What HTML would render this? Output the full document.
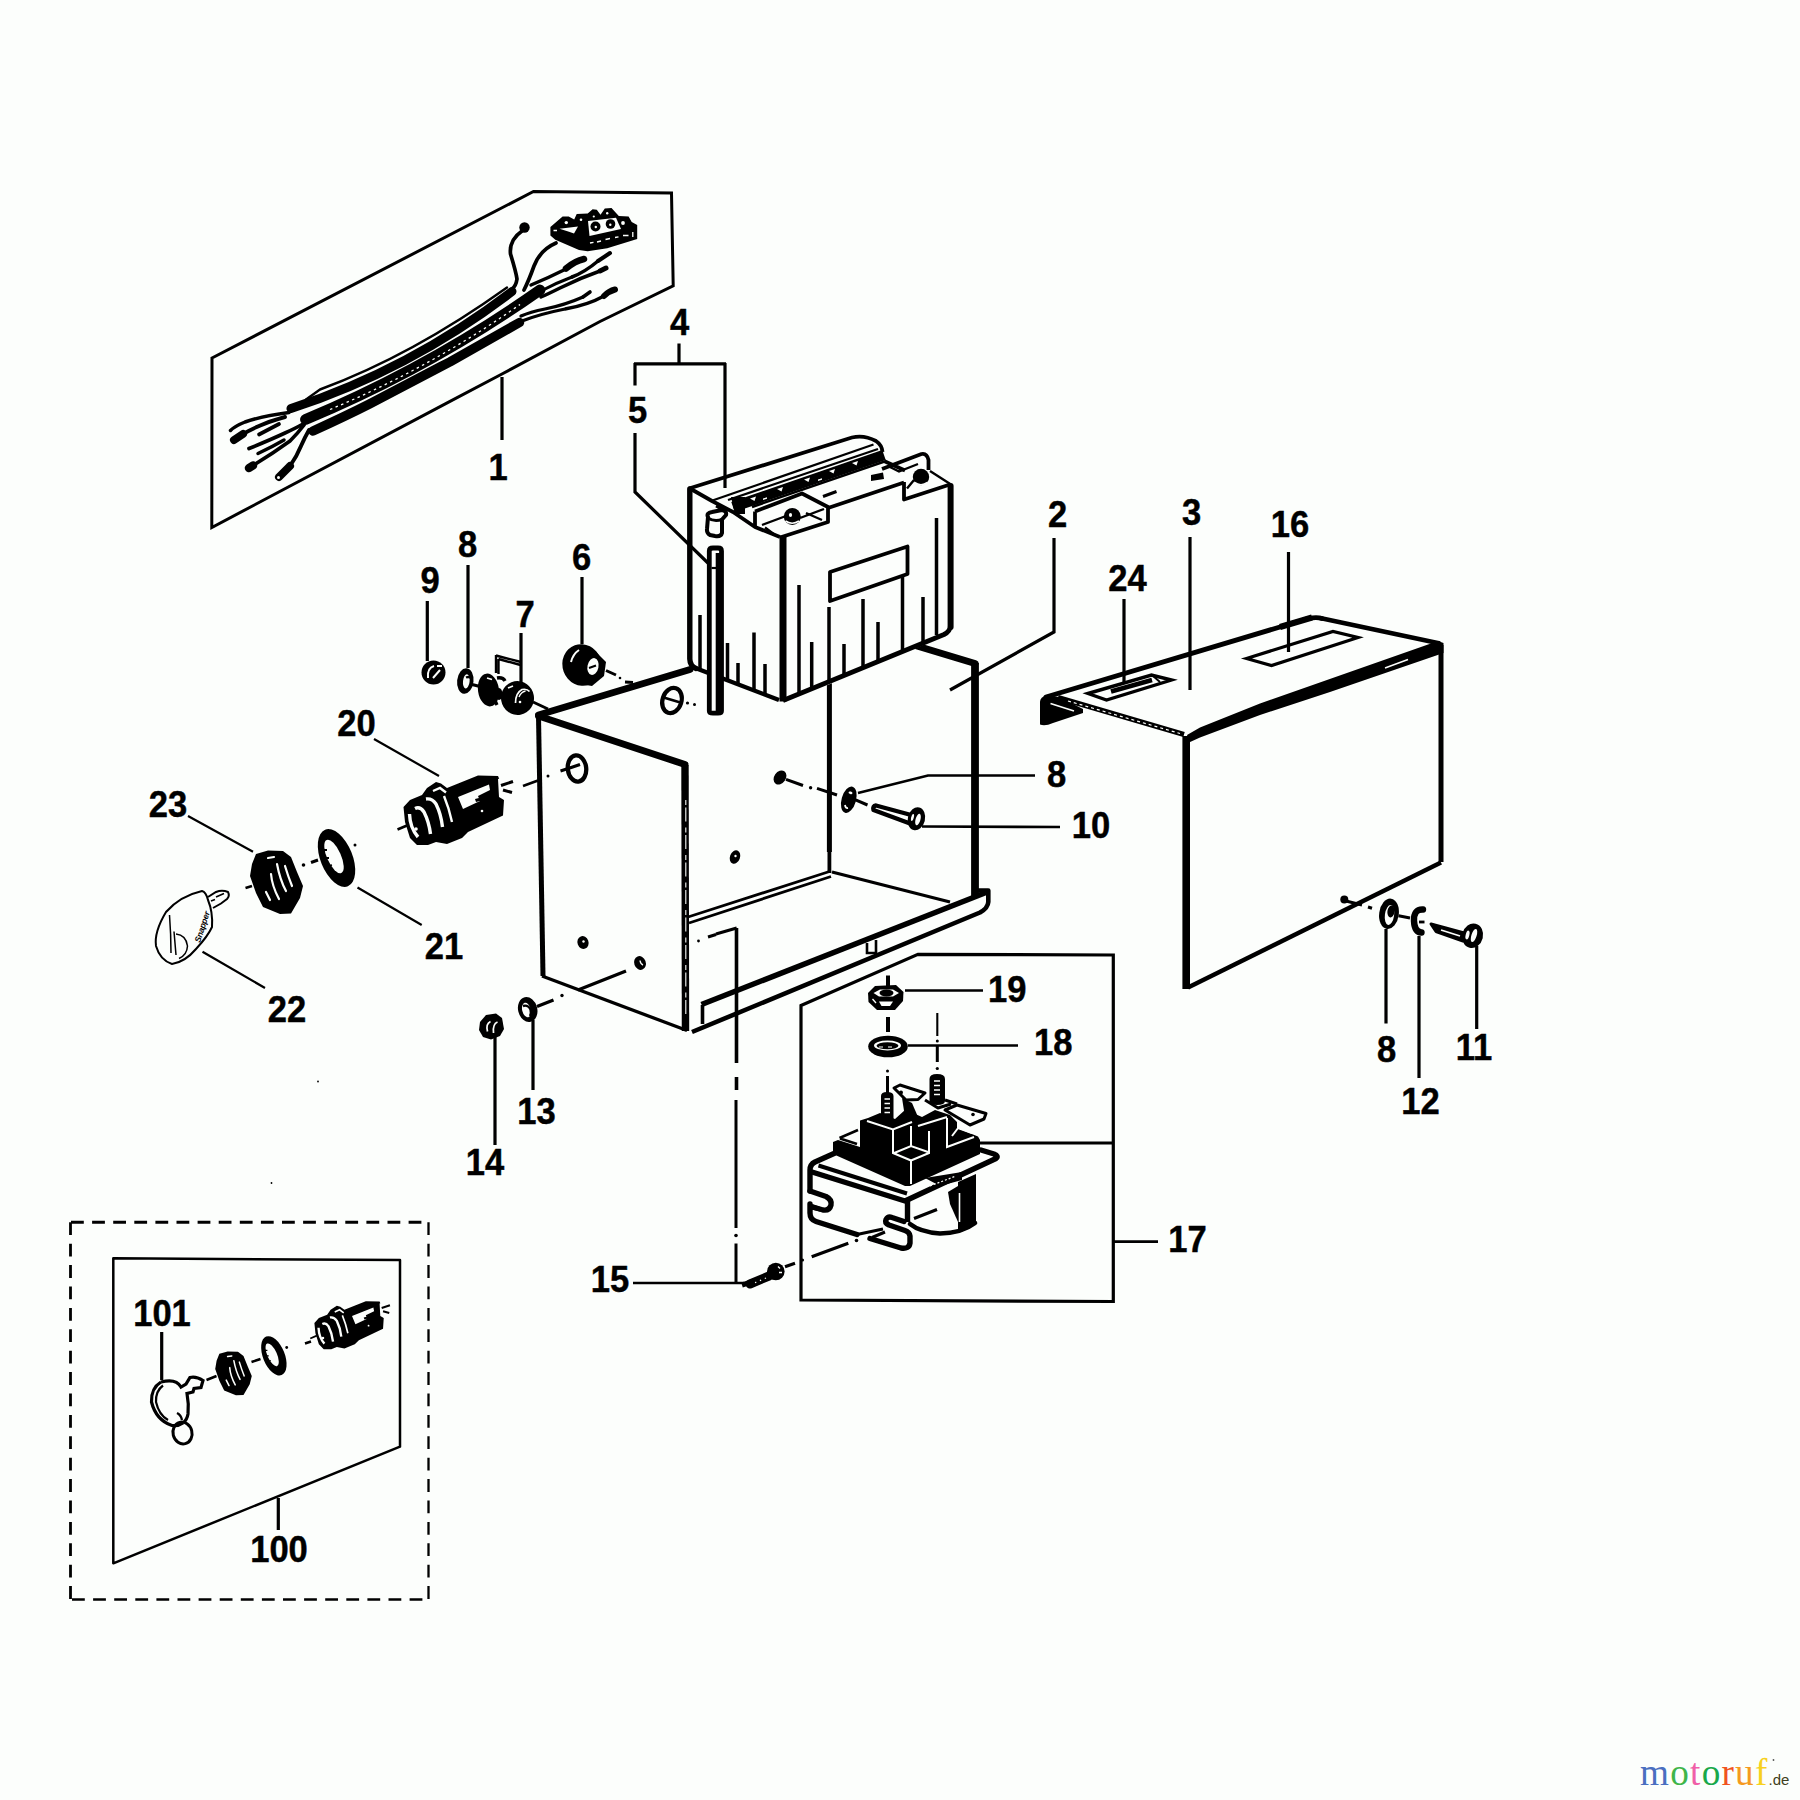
<!DOCTYPE html>
<html><head><meta charset="utf-8"><title>Parts diagram</title>
<style>
html,body{margin:0;padding:0;background:#fcfefc;}
body{width:1800px;height:1800px;overflow:hidden;}
svg{display:block;}
text{font-family:"Liberation Sans",sans-serif;}
.l{font-weight:bold;font-size:34.5px;fill:#000;text-anchor:middle;stroke:#000;stroke-width:0.45;}
.t{stroke:#000;stroke-width:3;fill:none;stroke-linecap:butt;stroke-linejoin:miter;}
.m{stroke:#000;stroke-width:3.6;fill:none;stroke-linejoin:round;}
.k{stroke:#000;stroke-width:4.6;fill:none;stroke-linejoin:round;stroke-linecap:round;}
.b{fill:#000;stroke:none;}
.w{fill:#fcfefc;stroke:none;}
</style></head><body>
<svg width="1800" height="1800" viewBox="0 0 1800 1800">
<rect x="0" y="0" width="1800" height="1800" fill="#fcfefc"/>
<!-- 10_frames.svg -->
<g id="frames">
<polygon class="t" style="stroke-width:3" points="212,358 533.500,191.500 671.500,193 673.200,285.800 600,321.500 501.500,374.300 450,401.300 211.800,527.500"/>
<polygon class="t" style="stroke-width:3.200" points="801,1005.500 918,954.400 1113.3,955 1113.3,1301.5 801,1300"/>
<path class="t" style="stroke-width:3.200" d="M980,1143H1113"/>
<path class="t" d="M70.500,1222.300H428.500" stroke-dasharray="12.800,8.300" stroke-dashoffset="-0.5" style="stroke-width:3"/>
<path class="t" d="M70.500,1222.300V1600" stroke-dasharray="12.800,8.600" style="stroke-width:2.800"/>
<path class="t" d="M428.500,1222.300V1600" stroke-dasharray="12.800,8.600" style="stroke-width:2.300"/>
<path class="t" d="M72,1599.500H427" stroke-dasharray="12.800,8.300" style="stroke-width:2.400"/>
<polygon class="t" points="113.3,1258.3 400,1260 400,1446.7 113.3,1563.3" style="stroke-linejoin:round;stroke-width:2.500"/>
</g>

<!-- 20_box.svg -->
<g id="box2">
<!-- back-left panel P2 top edge and back-right panel P3 -->
<path class="k" style="stroke-width:6.800" d="M538.500,715L690,669.500"/>
<path class="k" style="stroke-width:7" d="M917,646L975,663.500"/>
<path class="m" style="stroke-width:7.800;stroke-linecap:butt" d="M975,663V896"/>
<path class="t" style="stroke-width:5" d="M829.400,683V852"/>
<path class="t" style="stroke-width:3.800" d="M829.400,850V873"/>
<path class="t" style="stroke-width:3.200" d="M832,872L950,902"/>
<!-- floor left double line -->
<path class="t" style="stroke-width:2.800" d="M831,871L688,917 M831,876.500L689,923"/>
<!-- front lip -->
<path class="m" style="stroke-width:5.500;stroke-linecap:butt" d="M701.500,1004.500L986,892.500"/>
<path class="m" style="stroke-width:4.600" d="M692,1032L980,912.500Q988,908 988.300,902V890.500H978"/>
<path class="m" style="stroke-width:3.600" d="M702.500,1005V1024"/>
<path class="t" style="stroke-width:2.600" d="M867,943V953H876V940"/>
<!-- holes in P2 -->
<ellipse class="m" cx="672" cy="700.500" rx="9.500" ry="12.800" transform="rotate(18 672 700.500)" style="stroke-width:4.200"/>
<path class="t" style="stroke-width:2.800" d="M662,697L682,703"/>
<circle class="b" cx="687.500" cy="703" r="1.600"/><circle class="b" cx="694.500" cy="704.500" r="1.500"/>
<ellipse class="b" cx="780" cy="777.500" rx="5.800" ry="7.600" transform="rotate(35 780 777.500)"/>
<ellipse class="b" cx="735" cy="857" rx="5" ry="7" transform="rotate(20 735 857)"/>
<circle class="w" cx="735.5" cy="856" r="1.2"/>
<!-- near panel P1 -->
<polygon class="w" points="537,715 687,763.5 688,1030 542,977"/>
<path class="k" style="stroke-width:6.800" d="M538.500,716L685,764.500"/>
<path class="m" style="stroke-width:5" d="M538.500,716L543,976"/>
<path class="m" style="stroke-width:3.300" d="M542,976L687,1030.500"/>
<path class="m" style="stroke-width:7.400;stroke-linecap:butt" d="M685,765L685.500,1031"/>
<path class="t" style="stroke:#fcfefc;stroke-width:1.100;stroke-dasharray:5,2.500,14,6" d="M685.800,800V1020"/>
<ellipse class="m" cx="577" cy="768.500" rx="9.200" ry="13.200" transform="rotate(-6 577 768.500)" style="stroke-width:4.300"/>
<path class="m" style="stroke-width:3" d="M560.500,771Q570,768 580,764.500"/>
<ellipse class="b" cx="583" cy="942.5" rx="5.500" ry="6.500" transform="rotate(-20 583 942.5)"/><circle class="w" cx="583.5" cy="941.500" r="1.200"/>
<ellipse class="b" cx="640" cy="963" rx="5.800" ry="7" transform="rotate(-20 640 963)"/><path class="t" style="stroke:#fcfefc;stroke-width:1.400" d="M640,960.500Q640.500,964 643,965"/>
<!-- small bracket mark & vertical centerline -->
<circle class="b" cx="698.500" cy="941" r="1.400"/>
<path class="t" style="stroke-width:3" d="M708,937L716,934.500 M716,934L736.7,928"/>
<path class="t" style="stroke-width:3.600" d="M736.500,928V1063 M736.500,1077V1090"/>
<path class="t" style="stroke-width:3" d="M736,1100V1228 M736,1243.500V1284"/>
<circle class="b" cx="736" cy="1235.500" r="1.800"/>
</g>

<!-- 30_battery.svg -->
<g id="battery">
<!-- silhouette -->
<polygon class="w" points="688,488 853,437 868,436.5 881,447 884,455 905,468 921,453 928,459 930,470 952,484 952,633 787,702 779,702 692,667 688,660"/>
<!-- outer edges -->
<path class="k" style="stroke-width:5.400" d="M689.800,489V659Q690,666 696,668.500"/>
<path class="m" style="stroke-width:4.400" d="M694,667.500L779,700"/>
<path class="k" style="stroke-width:7;stroke-linecap:butt" d="M783,537V701.500"/>
<path class="m" style="stroke-width:4.800" d="M783,700.500L944,634.500Q950,631.500 950.500,626"/>
<path class="k" style="stroke-width:6" d="M950.600,486V627"/>
<!-- top back edge -->
<path class="m" style="stroke-width:3.800" d="M689,488.500L852,437.500Q864,434.500 876,441Q882,445 882.500,452"/>
<!-- strip lines -->
<path class="t" style="stroke-width:2.2" d="M711,501L873.5,444.5"/>
<path class="t" style="stroke-width:2.2" d="M728,500L878,449"/>
<path style="stroke:#000;stroke-width:10.5;fill:none" d="M733,507L884,455"/>
<path class="b" d="M731,497H745V514H735Z"/>
<path class="t" style="stroke-width:2.4" d="M752,507L884.5,461.5"/>
<!-- white triangles in strip -->
<path class="w" d="M750,498.5l6,-2l-1.5,4.5z M777,489l6,-2l-1.5,4.5z M804,479.5l6,-2l-1.5,4.5z M829,471l6,-2l-1.5,4.5z M852,463l6,-2l-1.5,4.5z"/>
<path class="w" d="M763,498.5l4,-1.3l0,1.6l-4,1.3z M818,479.5l4,-1.3l0,1.6l-4,1.3z"/>
<!-- top-left edge -->
<path class="m" style="stroke-width:3.800" d="M690,488.500L712,501L733,512L755,527L780,537"/>
<path class="t" d="M716,506L727,512"/>
<!-- left terminal block -->
<path class="m" style="stroke-width:3.800" d="M755,511.500V527.500 M755,511.500L802,493.500L828,507V522L780,537.500"/>
<path class="t" style="stroke-width:2.4" d="M762,525L786,516 M765,527.5L775,535 M806,513L822,520 M800,518L824,509"/>
<circle class="b" cx="792.300" cy="516.500" r="8.500"/><ellipse class="w" cx="790.500" cy="515" rx="1.600" ry="2"/>
<path class="t" style="stroke:#fcfefc;stroke-width:1.6" d="M785.5,521Q792,525.5 799,521"/>
<!-- dash mark -->
<path class="m" style="stroke-width:3" d="M823,496.5L836.5,491.5"/>
<!-- top front edge -->
<path class="m" style="stroke-width:3.800" d="M828,508L904,482.500"/>
<!-- right terminal block -->
<path class="m" style="stroke-width:3.800" d="M904,482V499.500L950,484.500 M884,461L905,470.500 M882,469L921.500,454Q927,453 928.500,460V470"/>
<path class="t" style="stroke-width:2.4" d="M888,466L899,471.5L918,464 M907,488.5L914,480 M930,471L951,484.5"/>
<path class="b" d="M871,475l12,-2.5l1,6.5l-13,2z"/>
<circle class="b" cx="921" cy="477" r="8.2"/>
<path class="t" style="stroke:#fcfefc;stroke-width:1.6" d="M914.5,482.5Q921,487 927.5,482.5"/>
<!-- front label -->
<polygon class="m" style="stroke-width:3.800" points="830,572 907.500,546.500 907.500,574 830,601"/>
<!-- front ribs -->
<path class="m" style="stroke-width:3.500" d="M799,585V693 M829,607V682 M863,599V667 M878,622V660 M902.5,577V650 M923,597V642 M936.5,518V635 M811.7,642V690 M844,644V675"/>
<!-- left-face ribs -->
<path class="m" style="stroke-width:3.500" d="M700,615V670 M727.5,643V680 M738,663V685 M754,632.5V691.5 M765,664V695"/>
<!-- vent elbow -->
<path class="m" style="stroke-width:4" d="M708,517Q706,513 712,512L722,510Q727,511 726,515L722,519.500V533Q721,537 715,536L710,535Q706.500,533 707,529Z"/>
<path class="m" style="stroke-width:3" d="M708,518Q714,522 722,519.5"/>
<!-- hold-down rod (5) -->
<path style="fill:#fcfefc;stroke:#000;stroke-width:4.800;stroke-linejoin:round" d="M709.300,551Q709.300,548 713,548H718Q721.500,548 721.500,551V711Q721.500,713.200 718,713.200H713Q709.300,713.200 709.300,711Z"/>
<path class="k" style="stroke-width:6.600;stroke-linecap:butt" d="M719,553V712"/>
<path class="t" style="stroke-width:2.2" d="M711.5,568H718.5"/>
</g>

<!-- 40_cover.svg -->
<g id="cover3">
<!-- left flange -->
<path class="b" d="M1040,702Q1040,697 1047,695L1059,697L1083,709V713L1053,723Q1045,726.500 1040,724.500Z"/>
<path class="t" style="stroke:#fcfefc;stroke-width:1.800" d="M1050.500,703.500L1074,711"/>
<!-- top surface edges -->
<path class="k" style="stroke-width:4.800" d="M1046,697L1300,621Q1314,616 1322,618.500"/>
<path class="k" style="stroke-width:6;stroke-linecap:butt" d="M1280,627L1312,617.500"/>
<path class="m" style="stroke-width:4.600" d="M1320,618L1440,643.500"/>
<path class="m" style="stroke-width:5.200" d="M1058,697.500L1184,734.500"/>
<path class="t" style="stroke:#fcfefc;stroke-width:1.200;stroke-dasharray:3,3" d="M1068,701L1180,733.500"/>
<!-- bend band -->
<path class="b" d="M1187,735L1200,727.500L1260,703.500L1438,641L1443.500,643L1443.500,653L1330,692L1260,715L1200,737.500L1189,742.500Z"/>
<path class="t" style="stroke:#fcfefc;stroke-width:1.5" d="M1385,668L1408,659.5"/>
<!-- front panel -->
<path class="k" style="stroke-width:7.600;stroke-linecap:butt" d="M1186.200,736V989"/>
<path class="m" style="stroke-width:4.400" d="M1188,987.500L1441,862.500"/>
<path class="m" style="stroke-width:5" d="M1441,645V862"/>

<!-- label 16 -->
<polygon class="t" style="stroke-width:3.200" points="1246.5,658.5 1333,631.5 1358,637.5 1271.5,665.5"/>
<!-- label 24 -->
<polygon class="t" style="stroke-width:3.400" points="1088,693.5 1151.5,675 1171.5,680 1106.5,700"/>
<path class="m" style="stroke-width:4.600" d="M1111,691.5L1152,680"/>
<path class="t" style="stroke-width:2" d="M1153,676L1160,682"/>
<!-- hole + hardware -->
<circle class="b" cx="1344.300" cy="899.500" r="4"/>
<path class="t" style="stroke-width:3" d="M1346,901L1362,905 M1368,907L1372,908.300"/>
<ellipse class="b" cx="1389" cy="913.800" rx="9.800" ry="15.300" transform="rotate(8 1389 913.800)"/>
<ellipse class="w" cx="1389.500" cy="915" rx="4.600" ry="10" transform="rotate(8 1389.500 915)"/>
<ellipse class="b" cx="1391" cy="911.500" rx="3.600" ry="6" transform="rotate(8 1391 911.500)"/>
<path class="t" style="stroke-width:3" d="M1398.500,915.800L1410,918"/>
<path class="k" style="stroke-width:6.400;stroke-linecap:round" d="M1423,909.500Q1413.500,909 1414,921Q1414.500,932 1421.500,932.500"/>
<path class="t" style="stroke-width:2.800" d="M1419,922H1424.500"/>
<path style="fill:#000;stroke:#000;stroke-width:3;stroke-linejoin:round" d="M1431,924L1466,933.500L1463,941L1436,931.500Z"/>
<path class="t" style="stroke:#fcfefc;stroke-width:1.800" d="M1441,930L1460,936"/>
<ellipse class="b" cx="1472.600" cy="935.700" rx="10.400" ry="12.400" transform="rotate(14 1472.600 935.700)"/>
<ellipse class="w" cx="1474" cy="935.500" rx="2.600" ry="6.800" transform="rotate(18 1474 935.500)"/>
<ellipse class="w" cx="1467.500" cy="935" rx="1.800" ry="4.500" transform="rotate(14 1467.500 935)"/>
</g>

<!-- 50_harness.svg -->
<g id="harness" style="stroke-linecap:round">
<!-- main cables -->
<path style="stroke:#000;stroke-width:2.400;fill:none;stroke-linejoin:round" d="M306,399.500L320,389.500Q412,355.500 507,287.500"/>
<path style="stroke:#000;stroke-width:9;fill:none" d="M291,408.500Q410,369.500 512,291.500"/>
<path style="stroke:#000;stroke-width:10.800;fill:none" d="M305.500,419.500Q430,367.500 540,290"/>
<path style="stroke:#fcfefc;stroke-width:1.300;fill:none;stroke-dasharray:2.500,3.500;stroke-linecap:butt" d="M330,409.500Q430,368 520,304.500"/>
<path style="stroke:#000;stroke-width:9.400;fill:none;stroke-linejoin:round" d="M313,431Q345,416.500 370,403.800L440,367L450,361.800L519.500,322.500"/>
<path style="stroke:#000;stroke-width:3;fill:none" d="M541,291Q556,283 572,277"/>
<!-- right-end wires -->
<circle class="b" cx="524.5" cy="227.5" r="5.2"/>
<path class="m" style="stroke-width:3.70" d="M522,231Q509,240 510.5,254Q516,272 517,279Q516,286 512,289"/>
<path class="m" style="stroke-width:3.70" d="M556,243Q540,250 534,266Q529,280 524,290"/>
<path style="stroke:#000;stroke-width:6.5;fill:none" d="M566,268.5Q575,261 584,259"/>
<path class="m" style="stroke-width:3.50" d="M566,269Q548,278 531,285"/>
<path style="stroke:#000;stroke-width:4;fill:none" d="M598,261L610,253"/>
<path class="m" style="stroke-width:3.50" d="M598,261Q585,272 572,277"/>
<path style="stroke:#000;stroke-width:5;fill:none" d="M600,271L606,268"/>
<path class="m" style="stroke-width:3.50" d="M600,271Q580,278 560,288Q548,294 541,297"/>
<path style="stroke:#000;stroke-width:3.6;fill:none" d="M583,297L590,292"/>
<path class="m" style="stroke-width:3.30" d="M583,297Q565,305 545,309Q530,312 521,316"/>
<path style="stroke:#000;stroke-width:6;fill:none" d="M604,296Q609,291 615,289.5"/>
<path class="m" style="stroke-width:3.30" d="M604,296Q588,305 565,309Q540,314 522,321"/>
<!-- connector block -->
<path class="b" d="M550.4,227L562.6,216.5L568.7,216.5L574.2,219.6L576.7,214L587.7,213.4L592.6,209.2L596.8,209.8L600.5,214.7L604.8,208.6L611.5,207.9L618.8,215.9L628.6,216.5L631.7,222L637.2,225L637.2,239L607.2,248.3L587.7,251.3L579,250L555.3,239.7L550.4,235.4Z"/>
<path class="w" d="M559.500,228.700L578,226.500L574,233.600L569,231.800Z"/>
<path class="w" d="M588,221L616,217.800L621,229L589.500,236Z"/>
<circle class="b" cx="595.500" cy="226.500" r="5"/><circle class="b" cx="610.500" cy="224" r="4.800"/>
<circle class="w" cx="595.800" cy="227" r="1.200"/><circle class="w" cx="610.300" cy="224.800" r="1.200"/>
<circle class="w" cx="566.300" cy="222.600" r="1.700"/><circle class="w" cx="581" cy="219.800" r="1.300"/><circle class="w" cx="593.800" cy="216.500" r="1.100"/><circle class="w" cx="607.200" cy="213.200" r="1.200"/><circle class="w" cx="623" cy="223" r="1.900"/>
<path class="t" style="stroke:#fcfefc;stroke-width:1.300" d="M590,243L593.500,242.300 M597,242L601,241 M605.500,239.500L610,238.500 M615,237.500L618.500,236.800 M623,235.500H628.500 M632.800,232V237 M553.500,230.500H557"/>
<!-- left-end wires -->
<path class="m" style="stroke-width:3.50" d="M289,412.5Q262,416 245,422Q235,426 230.5,430.5"/>
<path style="stroke:#000;stroke-width:8;fill:none" d="M234,440L243,434"/>
<path class="m" style="stroke-width:3.90" d="M243,434Q262,423 285,417"/>
<path class="m" style="stroke-width:3.70" d="M259,434.5L279,424"/>
<path class="m" style="stroke-width:3.70" d="M249,448.5Q270,440 285,433Q296,428 303,424"/>
<path class="m" style="stroke-width:3.50" d="M258,453.5Q272,447 284,440"/>
<path style="stroke:#000;stroke-width:8.5;fill:none" d="M249,468L253,465.5"/>
<path class="m" style="stroke-width:3.70" d="M253,465.5Q272,454 290,441Q298,433 304,425"/>
<path style="stroke:#000;stroke-width:8;fill:none" d="M279,477Q285,471 290,466"/>
<circle class="w" cx="278.5" cy="477.5" r="1.5"/>
<path class="m" style="stroke-width:3.90" d="M290,466Q297,456 301,446Q305,437 309,430"/>
</g>

<!-- 60_hardware.svg -->
<g id="hardware">
<!-- 9 nut -->
<circle class="b" cx="433.5" cy="672.5" r="12"/>
<path class="t" style="stroke:#fcfefc;stroke-width:2" d="M428,678Q427,668 434,666 M433,678L440,670 M437,666L442,666"/>
<!-- 8 washer -->
<ellipse class="b" cx="465.300" cy="681" rx="8.200" ry="12.800" transform="rotate(6 465.300 681)"/>
<ellipse class="w" cx="466.300" cy="681.300" rx="3.300" ry="7.200" transform="rotate(6 466.300 681.300)"/>
<path class="t" style="stroke-width:2.400" d="M466,677.500Q469.500,676 471.500,678.500"/>
<path class="m" style="stroke-width:3" d="M470,684L480,686.5"/>
<!-- 7 insulators -->
<ellipse class="b" cx="488.5" cy="690" rx="10.5" ry="16.5" transform="rotate(-8 488.5 690)"/>
<path class="t" style="stroke:#fcfefc;stroke-width:1.8" d="M487,678L492,679.5"/>
<path class="m" style="stroke-width:3.4" d="M497,678Q503,677 505,681 M496,692Q493,698 497,705"/>
<ellipse class="b" cx="499" cy="694" rx="3.5" ry="6"/>
<ellipse class="b" cx="517.500" cy="698" rx="16.500" ry="17" transform="rotate(-10 517.500 698)"/>
<path class="t" style="stroke:#fcfefc;stroke-width:1.700" d="M515.500,703Q515.500,693 522,689.500Q527,688.500 529.500,691.500"/>
<path class="t" style="stroke:#fcfefc;stroke-width:1.300" d="M519,697Q521,692 525.500,691"/>
<circle class="w" cx="520" cy="702" r="1.300"/>
<path class="t" style="stroke:#fcfefc;stroke-width:1.6" d="M508,688L513,686"/>
<path class="t" style="stroke-width:2.4" d="M496,655.5L521,662 M496,655V673 M498.5,659L520.5,665 M498.5,659V674"/>
<path class="m" style="stroke-width:3" d="M533,702L548,709"/>
<!-- 6 grommet -->
<ellipse class="b" cx="582" cy="665" rx="19.5" ry="21" transform="rotate(-20 582 665)"/>
<path class="b" d="M575,646L596,652L606,662L604,676L592,686L580,684Z"/>
<ellipse class="w" cx="593" cy="666.5" rx="5.5" ry="8.5" transform="rotate(12 593 666.5)"/>
<path class="t" style="stroke-width:2" d="M589,668L596,665.5"/>
<path class="t" style="stroke:#fcfefc;stroke-width:2" d="M571,662Q573,654 579,650"/>
<path class="m" style="stroke-width:3" d="M606,670.5L616,675 M625,682L633,682.5"/>
<circle class="b" cx="620" cy="678" r="1.3"/>
<!-- box side washer 8 + bolt 10 -->
<path class="t" style="stroke-width:3" d="M786,779.400L803,785.500 M817,788.300L837,795"/>
<circle class="b" cx="810.600" cy="787.800" r="1.700"/>
<ellipse class="b" cx="848.800" cy="799.700" rx="7.200" ry="13.600" transform="rotate(16 848.800 799.700)"/>
<ellipse class="w" cx="850.500" cy="792.800" rx="2" ry="1.300" transform="rotate(16 850.500 792.800)"/>
<path class="t" style="stroke:#fcfefc;stroke-width:1.800" d="M845,805Q845.500,808.500 848,808"/>
<path class="t" style="stroke-width:3" d="M855,799.700L867.500,805"/>
<path style="fill:#fcfefc;stroke:#000;stroke-width:4.400;stroke-linejoin:round" d="M876,805.500Q872.500,806 873.500,810L910,823.500L913,815.500Z"/>
<ellipse class="b" cx="916.400" cy="818.800" rx="8.600" ry="11.600" transform="rotate(14 916.400 818.800)"/>
<ellipse class="w" cx="918" cy="819.500" rx="2.400" ry="6" transform="rotate(16 918 819.500)"/>
<ellipse class="w" cx="912.500" cy="817.500" rx="1.300" ry="3.500" transform="rotate(14 912.500 817.500)"/>
<!-- 13 washer, 14 nut -->
<path class="t" style="stroke-width:3.400" d="M626,971L578,990 M553.500,1000L537,1006.500"/>
<circle class="b" cx="562" cy="995.500" r="1.700"/>
<ellipse class="b" cx="527.700" cy="1009.500" rx="9.600" ry="12.600" transform="rotate(-14 527.700 1009.500)"/>
<ellipse class="w" cx="526.500" cy="1010" rx="4.300" ry="7.400" transform="rotate(-14 526.500 1010)"/>
<path class="t" style="stroke-width:2.400" d="M523,1006Q528,1004.500 530.500,1009.500Q531.500,1013 530,1016"/>
<path class="b" d="M480,1022L486,1015L496,1013.500L502,1018L504,1029L500,1036L491,1039.500L483,1037L479,1030Z"/>
<path class="t" style="stroke:#fcfefc;stroke-width:1.700" d="M487.500,1031.500Q485.500,1024 490.500,1021.500 M493.500,1033Q492.500,1024 497.500,1022"/>
</g>

<!-- 65_switch.svg -->
<g id="switchgroup">
<!-- 20 ignition switch -->
<g id="sw20">
<path class="b" d="M403.5,807L405,822L410,838L417,845L428,845L436,842L447,844L462,838L468,832L503,815.5L504,800L501,783L498,776L478,775.5L447,788L441,783.5L436,782L427,788L422,795L410,800Z"/>
<path class="t" style="stroke:#fcfefc;stroke-width:3.400" d="M409.500,814Q410,828 418,837 M415,808.500Q420,806 424,812Q429,822 430.500,834 M426,799Q432,798 436,804Q441,814 442.500,827"/>
<path class="t" style="stroke:#fcfefc;stroke-width:2.400" d="M433,791L440,788L446,792.500 M444,796Q449,808 452,822"/>

<path class="w" d="M458,797L489,784.500L490,790L478,796L480,801L463,809Z"/>
<path class="w" d="M498,779L504,777L504,786L509,790L509,796L504,800L499,797Z"/>
<path class="b" d="M475,799L487,796L487,799L476,802Z"/>
<circle class="w" cx="482" cy="811" r="1.3"/><circle class="w" cx="416" cy="829" r="1.8"/>
<path class="m" style="stroke-width:3" d="M501,785.5L513,781.5 M503,790L512,792.5"/>
<path class="m" style="stroke-width:2.6" d="M397.5,829.5L407,825.5"/>
</g>
<!-- centerline to hole -->
<path class="t" style="stroke-width:2.6" d="M523,786L538,780.5"/>
<circle class="b" cx="548" cy="776" r="1.5"/>
<!-- 21 ring -->
<g id="ring21">
<ellipse cx="336.5" cy="858" rx="16" ry="30.5" transform="rotate(-22 336.5 858)" class="b"/>
<ellipse cx="334" cy="856.5" rx="7" ry="18" transform="rotate(-24 334 856.5)" class="w"/>
<path class="t" style="stroke-width:1.8" d="M323,850l4,0 M325,858l4,0 M328,866l4,-1 M331,874l4,-1"/>
</g>
<circle class="b" cx="355" cy="845" r="1.5"/>
<path class="m" style="stroke-width:3" d="M311,862.5L318,860"/>
<circle class="b" cx="303.5" cy="865" r="1.8"/>
<!-- 23 nut -->
<g id="nut23">
<path class="b" d="M256,854L268,850.5L283,851L291,857L297,872L303,886L300,898L291,913.5L280,914L263,907L256,893L250,876L252,864Z"/>
<path class="t" style="stroke:#fcfefc;stroke-width:2.2;stroke-linecap:round" d="M271,874Q272,886 279,899 M277,864Q280,880 286,891 M285,866Q288,876 292,886 M266,892L270,900 M268,858L274,857"/>
</g>
<path class="m" style="stroke-width:2.6" d="M245.5,888L252,886"/>
<!-- 22 key -->
<path class="t" style="stroke-width:2" d="M202,891Q180,896 166,912Q154,932 156,946Q160,960 172,964Q185,962 196,949Q208,936 212,927Q213,912 208,900Q206,892 202,891Z"/>
<path class="t" style="stroke-width:2" d="M208,897L216,892Q222,889.5 228,892Q230,896 227,899L221,903.5L213,908"/>
<path class="t" style="stroke-width:1.6" d="M216,897L224,893.5 M211,901L215,899.5"/>
<path class="t" style="stroke-width:1.5" d="M169.5,915Q171,935 171,953 M174,931.5L176,955 M176,934Q186,935 187.5,946Q187,955 179,958.5"/>
<text transform="translate(200,943) rotate(-72)" style="font-size:8.5px;font-style:italic;font-weight:bold;fill:#000;letter-spacing:-0.3px">Snapper</text>
</g>

<!-- 70_solenoid.svg -->
<g id="solenoid">
<!-- 19 nut -->
<path class="b" d="M868,993L875,986L896,985L903.5,992L903,1001L895,1010L877,1010L868.5,1002Z"/>
<path class="w" d="M873.500,993L880,989.500L893,989.500L899,993L893,996.500L879,996.500Z"/>
<ellipse class="b" cx="886.500" cy="993" rx="7" ry="3.400"/>
<path class="w" d="M879,1001.500H893L890,1006H881.500Z"/>
<path class="t" style="stroke:#fcfefc;stroke-width:1.300" d="M872.500,999L876,1003"/>
<!-- 18 lock washer -->
<ellipse class="b" cx="888" cy="1046.500" rx="19.800" ry="10.800"/>
<ellipse class="w" cx="887.5" cy="1045.500" rx="13.500" ry="5"/>
<ellipse class="b" cx="887.500" cy="1045.800" rx="11" ry="3.500"/>
<path class="t" style="stroke:#fcfefc;stroke-width:1.200;stroke-dasharray:4,5" d="M879,1047H897"/>
<!-- vertical dash-dot lines -->
<path class="m" style="stroke-width:4;stroke-linecap:butt" d="M888,975.500V987 M888,1017V1032"/>
<path class="m" style="stroke-width:3;stroke-linecap:butt" d="M887.500,1076V1093"/><circle class="b" cx="887.500" cy="1071" r="1.500"/>
<path class="t" style="stroke-width:2.100" d="M937.300,1013V1036"/><path class="t" style="stroke-width:3" d="M937.300,1045V1062"/>
<circle class="b" cx="937.300" cy="1041" r="1.500"/><circle class="b" cx="937.300" cy="1068.500" r="1.600"/>
<!-- studs -->
<path class="b" d="M881,1096Q881,1092 887,1092Q893.5,1092 893.5,1096V1120H881Z"/>
<path class="t" style="stroke:#fcfefc;stroke-width:1.5" d="M884.5,1099H890 M884.5,1103.5H890 M884.5,1108H890 M884.5,1112.5H890"/>
<path class="b" d="M929.5,1079Q929.5,1074 937,1074Q945,1074 945,1079V1101Q945,1105 937,1105Q929.5,1105 929.5,1101Z"/>
<path class="t" style="stroke:#fcfefc;stroke-width:1.5" d="M934,1081H940 M934,1085.5H940 M934,1090H940 M934,1094.5H940"/>
<!-- spade terminals -->
<path style="fill:#fcfefc;stroke:#000;stroke-width:3;stroke-linejoin:round" d="M894,1088L900,1085L925,1093L918,1099.5L906,1100Z"/>
<circle class="b" cx="901" cy="1092.500" r="2"/>
<path style="fill:#fcfefc;stroke:#000;stroke-width:3;stroke-linejoin:round" d="M945,1110L957,1105L986,1113.5L984,1119L970,1125Z"/>
<circle class="b" cx="973" cy="1114.500" r="1.8"/>
<path class="m" style="stroke-width:3" d="M945,1100L957,1104 M925,1100L938,1108L951,1104"/>
<!-- body black -->
<path class="b" d="M833,1142L838,1140L860,1147V1120.500L868,1118L880,1113L895,1119L905,1110L913,1113L922,1117L935,1110L950,1115L957,1122V1128L978,1136.500L980,1140V1154L910,1186L905,1186L833,1154Z"/>
<path class="b" d="M902,1098L912,1103L918,1117L905,1117Z"/>
<!-- white details on body -->
<path class="w" d="M839,1139L858,1128.500V1144.500Z"/>
<path class="t" style="stroke-width:2.600" d="M840,1138.500L857,1144 M839.500,1138L858,1130"/>
<path class="t" style="stroke:#fcfefc;stroke-width:2" d="M867,1121L893,1129.500L912,1122 M893,1130V1153L911,1160.500V1184 M911,1160.500L929,1153V1131 M893,1153.500L911,1146L928,1152 M911,1126V1146 M918,1126L947,1117 M947,1118V1147L974,1137 M952,1136L960,1125.500 M958,1128L972,1133"/>
<path class="w" d="M901,1157L915,1151.500L925,1154.500L911,1160Z" style="opacity:0"/>
<!-- mounting plate -->
<path class="k" style="stroke-width:5.400" d="M834,1153.500L815,1162Q810,1164.500 810,1170V1191"/>
<path class="m" style="stroke-width:4" d="M818.500,1165.500L907,1193.500"/>
<path class="k" style="stroke-width:5.400" d="M812,1172L905,1201L996,1158.500Q999,1156 994,1154L981,1150"/>
<!-- bracket left face + notch -->
<path class="k" style="stroke-width:5.400" d="M810,1191L826,1196.500Q832,1199.500 831,1205Q829.500,1211 823,1210L811,1206.500 M810,1204V1213Q810,1219.500 816,1221.500L857,1234.500 M870,1238.500L901,1248Q909,1249.500 910,1243V1236Q909.500,1232 905,1230.500L889,1225Q884.500,1223 886,1219.500Q888,1216 892,1217.500L904,1221.500"/>
<path class="b" d="M809,1203L822,1207.500L820,1211.500L809,1209Z"/>
<path class="m" style="stroke-width:3" d="M857,1234.500L883,1229 M872,1237.500L885,1232"/>
<path class="k" style="stroke-width:5.400;stroke-linecap:butt" d="M907.500,1198V1222"/>
<!-- coil -->
<path class="b" d="M958,1182L976,1174V1222Q972,1229 958,1232.500Z"/>
<path class="b" d="M948,1192L958,1186V1222L950,1204Z"/>
<path class="t" style="stroke:#fcfefc;stroke-width:1.600" d="M959.500,1193V1222"/>
<path class="k" style="stroke-width:4.600" d="M910,1224Q920,1232 940,1233.500Q962,1233 975,1223"/>
<path class="b" d="M925,1178L962,1172V1180L940,1186Z"/>
<path class="t" style="stroke:#fcfefc;stroke-width:1.200;stroke-dasharray:2,2" d="M930,1186L956,1176"/>
<!-- dashed axis to screw 15 -->
<path class="m" style="stroke-width:3.200" d="M914,1218.500L937,1209.500 M848.300,1243.300L811.700,1256.700 M795,1263.300L785,1266.700"/>
<circle class="b" cx="856.500" cy="1240.500" r="1.800"/><circle class="b" cx="802.500" cy="1260" r="1.600"/>
<!-- screw 15 -->
<circle class="b" cx="775.800" cy="1271.500" r="8.800"/>
<path class="t" style="stroke:#fcfefc;stroke-width:1.300" d="M778,1266.500L780,1268.500 M779,1272.500H782"/>
<path style="stroke:#000;stroke-width:9;fill:none;stroke-linecap:round" d="M769,1276L750,1284"/>
<path class="m" style="stroke-width:5" d="M770,1276L742,1285"/>
<path class="t" style="stroke:#fcfefc;stroke-width:1.200;stroke-dasharray:1.300,4" d="M766,1278L752,1284"/>
</g>

<!-- 80_kit.svg -->
<g id="kit100">
<use href="#sw20" transform="translate(352,1325) scale(0.69) translate(-458,-810)"/>
<use href="#ring21" transform="translate(274,1355.8) scale(0.68) translate(-336.7,-858)"/>
<use href="#nut23" transform="translate(233.5,1373.5) scale(0.69) translate(-276.5,-882.5)"/>
<circle class="b" cx="286.700" cy="1347.500" r="1.400"/>
<path class="m" style="stroke-width:2.600" d="M251.500,1362L260.500,1359 M206.500,1380L216.500,1376 M305,1343.500L311,1341.500"/>
<!-- 101 key -->
<path class="t" style="stroke-width:3.200" d="M161,1382Q176,1378 181,1387 L186,1384L190,1377.500Q196,1376 203,1380.500L201,1387.500L194,1388.500L193,1392L187,1393.500Q189,1404 188,1414Q187,1420 183,1423"/>
<path class="t" style="stroke-width:3.200" d="M161,1382Q151,1388 151.500,1402Q156,1420 172,1425.500Q178,1426.500 183,1423"/>
<path class="t" style="stroke-width:2.200" d="M163,1385.500Q155.500,1391 156,1402Q159,1415 168,1420"/>
<path class="t" style="stroke-width:2.400" d="M177,1413Q181,1415 182,1420"/>
<ellipse class="t" cx="182.500" cy="1433" rx="9.500" ry="11" transform="rotate(-15 182.500 1433)" style="stroke-width:3"/>
</g>
<g id="specks">
<circle class="b" cx="318" cy="1081.500" r="0.900"/><circle class="b" cx="271.500" cy="1183" r="0.900"/>
</g>

<!-- 90_labels.svg -->
<text class="l" style="font-size:36px" transform="translate(498,480) scale(0.960,1)">1</text>
<text class="l" style="font-size:36px" transform="translate(679.5,334.7) scale(0.960,1)">4</text>
<text class="l" style="font-size:36px" transform="translate(637.5,423.3) scale(0.960,1)">5</text>
<text class="l" style="font-size:37.5px" transform="translate(467.5,557) scale(0.922,1)">8</text>
<text class="l" style="font-size:37.5px" transform="translate(430,593) scale(0.922,1)">9</text>
<text class="l" style="font-size:37.5px" transform="translate(581.5,569.5) scale(0.922,1)">6</text>
<text class="l" style="font-size:36.5px" transform="translate(525,626.5) scale(0.947,1)">7</text>
<text class="l" style="font-size:36px" transform="translate(356.5,735.5) scale(0.960,1)">20</text>
<text class="l" style="font-size:36px" transform="translate(168,817) scale(0.960,1)">23</text>
<text class="l" style="font-size:36px" transform="translate(444,959) scale(0.960,1)">21</text>
<text class="l" style="font-size:36px" transform="translate(287,1021.5) scale(0.960,1)">22</text>
<text class="l" style="font-size:36px" transform="translate(536.5,1124) scale(0.960,1)">13</text>
<text class="l" style="font-size:36px" transform="translate(485,1175) scale(0.960,1)">14</text>
<text class="l" style="font-size:36px" transform="translate(1056.5,786.5) scale(0.960,1)">8</text>
<text class="l" style="font-size:36px" transform="translate(1091,838) scale(0.960,1)">10</text>
<text class="l" style="font-size:36px" transform="translate(1057.5,527) scale(0.960,1)">2</text>
<text class="l" style="font-size:36px" transform="translate(1191.5,525) scale(0.960,1)">3</text>
<text class="l" style="font-size:36px" transform="translate(1290,537) scale(0.960,1)">16</text>
<text class="l" style="font-size:36px" transform="translate(1127.5,590.5) scale(0.960,1)">24</text>
<text class="l" style="font-size:36px" transform="translate(1007.3,1001.5) scale(0.960,1)">19</text>
<text class="l" style="font-size:36px" transform="translate(1053.3,1055) scale(0.960,1)">18</text>
<text class="l" style="font-size:36px" transform="translate(1187.5,1251.5) scale(0.960,1)">17</text>
<text class="l" style="font-size:36px" transform="translate(610,1291.5) scale(0.960,1)">15</text>
<text class="l" style="font-size:36px" transform="translate(1386.5,1062) scale(0.960,1)">8</text>
<text class="l" style="font-size:36px" transform="translate(1474,1060) scale(0.960,1)">11</text>
<text class="l" style="font-size:36px" transform="translate(1420.5,1114) scale(0.960,1)">12</text>
<text class="l" style="font-size:36px" transform="translate(162,1325.5) scale(0.960,1)">101</text>
<text class="l" style="font-size:36px" transform="translate(279,1561.5) scale(0.960,1)">100</text>
<path class="t" style="stroke-width:3.2" d="M502,377V440 M679,343.5V363.5 M634,363.8H726 M635,363V385.5 M725,363V488 M635,433V492L710,565 M1054,538V632L950,690 M1190,537V690 M1288.5,552V652 M1124,599V683 M533,1020V1090 M495,1037V1145 M1386,929V1023.5 M1419,936V1078 M1476.7,946V1029 M427.3,601V661 M468,565V668 M521,633V684 M582,577V644 M161.7,1332V1380 M278.3,1498V1530"/>
<path class="t" style="stroke-width:2.2" d="M374,739L439,776 M188,816L253,851.7 M202.5,951.7L265,988 M357.5,887.5L421.7,925"/>
<path class="t" style="stroke-width:2.7" d="M1035,775.500H928L858,793 M1060,827L922,826.5 M905,990.500H983 M908,1045.500H1018 M1113,1241.7H1158 M633,1283H744"/>

<!-- 95_logo.svg -->
<g id="logo" style="font-family:'Liberation Serif',serif">
<text x="1640" y="1785" style="font-family:'Liberation Serif',serif;font-size:37.200px;letter-spacing:1.250px"><tspan fill="#4a6fc0">m</tspan><tspan fill="#3fb54a">o</tspan><tspan fill="#f060a8">t</tspan><tspan fill="#18a84a">o</tspan><tspan fill="#f0531e">r</tspan><tspan fill="#f59a1e">u</tspan><tspan fill="#f7d11e">f</tspan></text>
<text x="1768.500" y="1785" style="font-family:'Liberation Sans',sans-serif;font-size:15px;fill:#3f3f20">.de</text>
<circle cx="1773.500" cy="1760" r="0.900" fill="#555"/>
</g>

</svg>
</body></html>
